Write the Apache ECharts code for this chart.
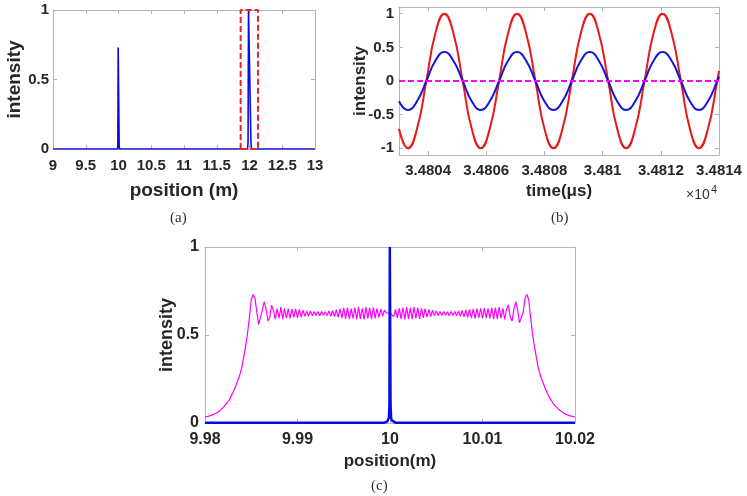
<!DOCTYPE html>
<html>
<head>
<meta charset="utf-8">
<script src="https://cdn.jsdelivr.net/npm/echarts@6/dist/echarts.min.js"></script>
<style>
  html, body { margin: 0; padding: 0; background: #fff; }
  #chart { width: 747px; height: 496px; }
</style>
</head>
<body>
<div id="chart"></div>
<script>
// ---- panel (a): position scan, two reflection peaks ----
const aPosX = [9, 9.985, 9.99, 9.995, 10.005, 10.01, 10.015, 11.97, 11.978, 11.985, 12.015, 12.022, 12.03, 13];
const aIntY = [0, 0, 0.03, 0.73, 0.73, 0.03, 0, 0, 0.05, 1, 1, 0.05, 0, 0];
const aBoxX = [11.865, 12.13];   // red dashed window
const aBoxY = [0, 1];

// ---- panel (b): beat signal in time (µs) ----
const bTime = [34803.00, 34803.31, 34803.62, 34803.94, 34804.25, 34804.56, 34804.87, 34805.19,
  34805.50, 34805.81, 34806.12, 34806.44, 34806.75, 34807.06, 34807.37, 34807.69, 34808.00,
  34808.31, 34808.62, 34808.94, 34809.25, 34809.56, 34809.87, 34810.19, 34810.50, 34810.81,
  34811.12, 34811.44, 34811.75, 34812.06, 34812.37, 34812.69, 34813.00, 34813.31, 34813.62,
  34813.94, 34814.00];
const bRed = [-0.71, -1, -0.71,
  0, 0.71, 1, 0.71, 0, -0.71, -1, -0.71,
  0, 0.71, 1, 0.71, 0, -0.71, -1, -0.71,
  0, 0.71, 1, 0.71, 0, -0.71, -1, -0.71,
  0, 0.71, 1, 0.71, 0, -0.71, -1, -0.71,
  0, 0.15];
const bBlue = [-0.30, -0.43, -0.30,
  0, 0.30, 0.43, 0.30, 0, -0.30, -0.43, -0.30,
  0, 0.30, 0.43, 0.30, 0, -0.30, -0.43, -0.30,
  0, 0.30, 0.43, 0.30, 0, -0.30, -0.43, -0.30,
  0, 0.30, 0.43, 0.30, 0, -0.30, -0.43, -0.30,
  0, 0.065];
const bZeroX = [34803, 34814];
const bZeroY = [0, 0];
const bTicksX = [34804, 34806, 34808, 34810, 34812, 34814];
const bTicksY = [-1, -0.5, 0, 0.5, 1];

// ---- panel (c): zoom around 10 m ----
const cMagStart = 9.98;
const cMagStep = 0.0002;
// samples 9.980 .. 10.000
const cMagL = [
  0.034, 0.036, 0.039, 0.042, 0.046, 0.050, 0.055, 0.062, 0.070, 0.080,
  0.090, 0.100, 0.115, 0.130, 0.150, 0.170, 0.195, 0.220, 0.250, 0.280,
  0.320, 0.380, 0.440, 0.510, 0.600, 0.700, 0.730, 0.710, 0.630, 0.560,
  0.570, 0.640, 0.690, 0.650, 0.580, 0.600, 0.670, 0.640, 0.590, 0.650,
  0.595, 0.658, 0.590, 0.652, 0.596, 0.650, 0.594, 0.647, 0.600, 0.648,
  0.598, 0.645, 0.602, 0.641, 0.606, 0.637, 0.608, 0.636, 0.610, 0.633,
  0.611, 0.634, 0.609, 0.633, 0.612, 0.632, 0.610, 0.636, 0.607, 0.639,
  0.604, 0.644, 0.600, 0.649, 0.596, 0.654, 0.592, 0.656, 0.590, 0.650,
  0.594, 0.656, 0.588, 0.660, 0.592, 0.652, 0.588, 0.658, 0.594, 0.654,
  0.590, 0.657, 0.594, 0.652, 0.598, 0.648, 0.606, 0.642, 0.625, 0.625,
  0.625];
// samples 10.0002 .. 10.020
const cMagR = [
  0.625, 0.604, 0.645, 0.596, 0.651, 0.592, 0.656, 0.589, 0.658, 0.592,
  0.654, 0.590, 0.658, 0.594, 0.655, 0.592, 0.652, 0.597, 0.650, 0.601,
  0.646, 0.605, 0.641, 0.609, 0.637, 0.610, 0.634, 0.611, 0.633, 0.612,
  0.632, 0.610, 0.633, 0.611, 0.634, 0.609, 0.636, 0.606, 0.639, 0.603,
  0.642, 0.600, 0.645, 0.597, 0.648, 0.595, 0.650, 0.597, 0.652, 0.595,
  0.653, 0.597, 0.651, 0.594, 0.654, 0.592, 0.656, 0.592, 0.658,
  0.596, 0.652, 0.588, 0.645, 0.670, 0.600, 0.580, 0.650, 0.690, 0.640,
  0.570, 0.560, 0.630, 0.710, 0.730, 0.700, 0.600, 0.510, 0.440, 0.380,
  0.320, 0.280, 0.250, 0.220, 0.195, 0.170, 0.150, 0.130, 0.115, 0.100,
  0.090, 0.080, 0.070, 0.062, 0.055, 0.050, 0.046, 0.042, 0.039, 0.036, 0.034];
const cBlueX = [9.98, 9.9994, 9.9997, 9.9998, 9.99988, 9.99994, 9.99998, 10.00002, 10.00006, 10.00012, 10.0002, 10.0003, 10.0006, 10.02];
const cBlueY = [0.002, 0.002, 0.008, 0.015, 0.03, 0.1, 1, 1, 0.1, 0.03, 0.015, 0.008, 0.002, 0.002];

const gray = '#b4b4b4';
const txt = '#262626';
const fam = '"Liberation Sans", Arial, sans-serif';

function zip(xs, ys) { return xs.map((x, i) => [x, ys[i]]); }

const cMag = cMagL.concat(cMagR).map((v, i) => [cMagStart + i * cMagStep, v]);
const aBox = [[aBoxX[0], aBoxY[0]], [aBoxX[0], aBoxY[1]], [aBoxX[1], aBoxY[1]], [aBoxX[1], aBoxY[0]], [aBoxX[0], aBoxY[0]]];

// bottom/left axis with labels, top/right axis only for the box and ticks
function xPair(grid, cfg) {
  const base = {
    gridIndex: grid, type: 'value', min: cfg.min, max: cfg.max, interval: cfg.interval,
    axisLine: { show: true, onZero: false, lineStyle: { color: gray, width: 1 } },
    axisTick: { show: true, inside: true, length: 4, lineStyle: { color: gray }, customValues: cfg.ticks },
    splitLine: { show: false }
  };
  return [
    Object.assign({}, base, {
      position: 'bottom',
      axisLabel: { show: true, margin: cfg.margin, color: txt, fontWeight: 'bold', fontFamily: fam, fontSize: cfg.fs,
        customValues: cfg.ticks, formatter: cfg.fmt },
      name: cfg.name, nameLocation: 'middle', nameGap: cfg.gap, nameMoveOverlap: false,
      nameTextStyle: { color: txt, fontWeight: 'bold', fontFamily: fam, fontSize: cfg.nfs }
    }),
    Object.assign({}, base, { position: 'top', axisLabel: { show: false } })
  ];
}
function yPair(grid, cfg) {
  const base = {
    gridIndex: grid, type: 'value', min: cfg.min, max: cfg.max, interval: cfg.interval,
    axisLine: { show: true, onZero: false, lineStyle: { color: gray, width: 1 } },
    axisTick: { show: true, inside: true, length: 4, lineStyle: { color: gray }, customValues: cfg.ticks },
    splitLine: { show: false }
  };
  return [
    Object.assign({}, base, {
      position: 'left',
      axisLabel: { show: true, margin: cfg.margin, color: txt, fontWeight: 'bold', fontFamily: fam, fontSize: cfg.fs,
        customValues: cfg.ticks },
      name: 'intensity', nameLocation: 'middle', nameGap: cfg.gap, nameMoveOverlap: false,
      nameTextStyle: { color: txt, fontWeight: 'bold', fontFamily: fam, fontSize: cfg.nfs }
    }),
    Object.assign({}, base, { position: 'right', axisLabel: { show: false } })
  ];
}

const xAxes = []
  .concat(xPair(0, { min: 9, max: 13, interval: 0.5, fs: 15, margin: 9, name: 'position (m)', gap: 32, nfs: 19 }))
  .concat(xPair(1, { min: 34803, max: 34814, ticks: bTicksX, fs: 15, margin: 8, name: 'time(μs)', gap: 28, nfs: 17,
    fmt: v => (v / 1e4).toFixed(4).replace(/0+$/, '') }))
  .concat(xPair(2, { min: 9.98, max: 10.02, interval: 0.01, fs: 16, margin: 9, name: 'position(m)', gap: 30, nfs: 17 }));

const yAxes = []
  .concat(yPair(0, { min: 0, max: 1, interval: 0.5, fs: 15, margin: 4, gap: 29, nfs: 19 }))
  .concat(yPair(1, { min: -1.1, max: 1.1, ticks: bTicksY, fs: 15, margin: 5, gap: 30, nfs: 17 }))
  .concat(yPair(2, { min: 0, max: 1, interval: 0.5, fs: 16, margin: 6, gap: 29, nfs: 18 }));

function line(xi, yi, data, color, width, extra) {
  return Object.assign({
    type: 'line', xAxisIndex: xi, yAxisIndex: yi, data: data, symbol: 'none', showSymbol: false,
    lineStyle: { color: color, width: width }, itemStyle: { color: color }, silent: true, z: 3
  }, extra || {});
}

const option = {
  animation: false,
  backgroundColor: '#fff',
  grid: [
    { left: 53, top: 10, width: 262, height: 139 },
    { left: 399, top: 7, width: 320, height: 148 },
    { left: 205, top: 247, width: 370, height: 176 }
  ],
  xAxis: xAxes,
  yAxis: yAxes,
  series: [
    line(0, 0, zip(aPosX, aIntY), '#0a0ae6', 1.6),
    line(0, 0, aBox, '#ee2222', 2, { lineStyle: { color: '#ee2222', width: 2, type: [6, 3] }, z: 4 }),
    line(2, 2, zip(bTime, bRed), '#e81818', 2, { smooth: 0.5 }),
    line(2, 2, zip(bTime, bBlue), '#1414d8', 2, { smooth: 0.5 }),
    line(2, 2, zip(bZeroX, bZeroY), '#ff00ff', 2, { lineStyle: { color: '#ff00ff', width: 2, type: [6, 3] } }),
    line(4, 4, cMag, '#ff00ff', 1.2),
    line(4, 4, zip(cBlueX, cBlueY), '#0a0ae6', 2.5, { z: 4 })
  ],
  graphic: [
    { type: 'text', left: 170, top: 211, style: { text: '(a)', font: '15px "Liberation Serif", serif', fill: '#333' } },
    { type: 'text', left: 551, top: 211, style: { text: '(b)', font: '15px "Liberation Serif", serif', fill: '#333' } },
    { type: 'text', left: 371, top: 479, style: { text: '(c)', font: '15px "Liberation Serif", serif', fill: '#333' } },
    { type: 'text', left: 686, top: 188, style: { text: '×10', font: '14px ' + fam, fill: '#333' } },
    { type: 'text', left: 711, top: 184, style: { text: '4', font: '11px ' + fam, fill: '#333' } }
  ]
};

const chart = echarts.init(document.getElementById('chart'), null, { renderer: 'canvas' });
chart.setOption(option);
</script>
</body>
</html>
